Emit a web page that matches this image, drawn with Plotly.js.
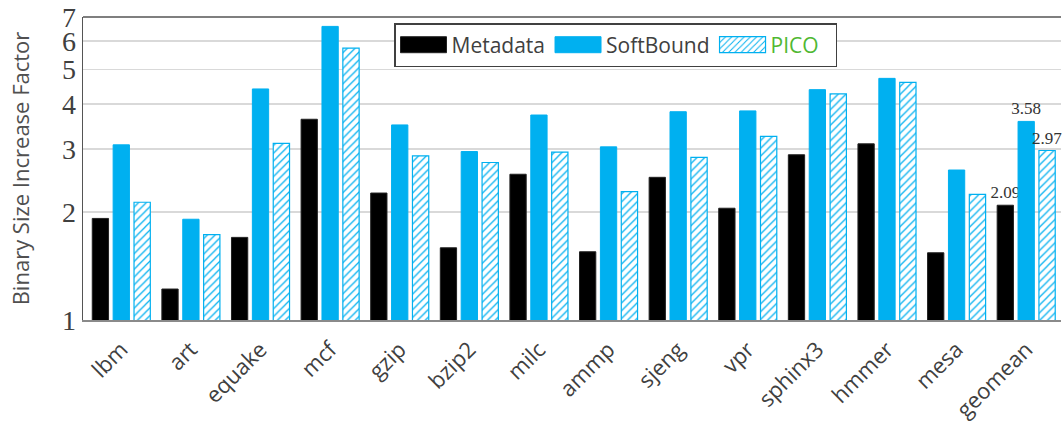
<!DOCTYPE html>
<html>
<head>
<meta charset="utf-8">
<script src="https://cdn.plot.ly/plotly-3.0.1.min.js"></script>
<style>
  html, body { margin: 0; padding: 0; background: #fff; }
  #chart { width: 1063px; height: 429px; }
</style>
</head>
<body>
<div id="chart"></div>
<script>
// Benchmarks on the x axis
const categories = ['lbm', 'art', 'equake', 'mcf', 'gzip', 'bzip2', 'milc',
                    'ammp', 'sjeng', 'vpr', 'sphinx3', 'hmmer', 'mesa', 'geomean'];

// Binary size increase factor per benchmark
const metadata  = [1.92, 1.22, 1.70, 3.63, 2.26, 1.59, 2.55, 1.55, 2.50, 2.05, 2.89, 3.10, 1.54, 2.09];
const softbound = [3.08, 1.91, 4.41, 6.59, 3.50, 2.95, 3.73, 3.04, 3.81, 3.83, 4.39, 4.72, 2.62, 3.58];
const pico      = [2.13, 1.73, 3.11, 5.73, 2.87, 2.75, 2.94, 2.28, 2.84, 3.25, 4.27, 4.60, 2.24, 2.97];

const seriesNames = ['Metadata', 'SoftBound', 'PICO'];
const yTickVals = [1, 2, 3, 4, 5, 6, 7];
const labelledCategory = 'geomean';

const BLUE = '#00b0f0';
const GREEN = '#50b832';
const TEXT = '#404040';

// value labels only on the summary group
function labelsFor(values) {
  return values.map((v, i) => categories[i] === labelledCategory ? v.toFixed(2) : '');
}

const valueFont = { family: 'Liberation Serif, Times New Roman, serif', size: 17, color: '#333333' };

const common = {
  type: 'bar',
  x: categories,
  textposition: 'outside',
  constraintext: 'none',
  cliponaxis: false,
  textfont: valueFont,
  hoverinfo: 'x+y'
};

const traces = [
  Object.assign({}, common, {
    name: seriesNames[0],
    y: metadata,
    text: labelsFor(metadata),
    marker: { color: '#000000', line: { color: '#222222', width: 1 } }
  }),
  Object.assign({}, common, {
    name: seriesNames[1],
    y: softbound,
    text: labelsFor(softbound),
    marker: { color: BLUE, line: { color: BLUE, width: 1 } }
  }),
  Object.assign({}, common, {
    // last legend entry gets a little trailing room before the box edge
    name: '<span style="color:' + GREEN + '">' + seriesNames[2] + '</span>&nbsp;&nbsp;',
    y: pico,
    text: labelsFor(pico),
    marker: {
      color: '#ffffff',
      line: { color: BLUE, width: 1.2 },
      pattern: { shape: '/', fgcolor: BLUE, bgcolor: '#ffffff', size: 5.5, solidity: 0.22 }
    }
  })
];

const layout = {
  width: 1063,
  height: 429,
  margin: { l: 83, r: 2, t: 17, b: 109, pad: 0 },
  paper_bgcolor: '#ffffff',
  plot_bgcolor: '#ffffff',
  barmode: 'group',
  bargap: 0.10,
  bargroupgap: 0.22,
  showlegend: true,
  legend: {
    orientation: 'h',
    x: 0.318, xanchor: 'left',
    y: 0.98, yanchor: 'top',
    bgcolor: '#ffffff',
    bordercolor: '#404040',
    borderwidth: 1.5,
    itemwidth: 46,
    traceorder: 'normal',
    font: { family: 'Open Sans, sans-serif', size: 21, color: TEXT }
  },
  xaxis: {
    type: 'category',
    range: [-0.55, 13.5],
    tickangle: -45,
    tickfont: { family: 'Open Sans, sans-serif', size: 22, color: TEXT },
    ticklabelstandoff: 6,
    showline: true,
    linecolor: '#8a8a8a',
    linewidth: 2,
    ticks: '',
    showgrid: false,
    zeroline: false,
    fixedrange: true
  },
  yaxis: {
    type: 'log',
    range: [0, Math.log10(7)],
    tickvals: yTickVals,
    ticktext: yTickVals.map(String),
    tickfont: { family: 'Liberation Serif, Times New Roman, serif', size: 28, color: TEXT },
    ticklabelstandoff: 0,
    showline: true,
    linecolor: '#555555',
    linewidth: 1.5,
    ticks: '',
    showgrid: true,
    gridcolor: '#d9d9d9',
    gridwidth: 1.5,
    zeroline: false,
    fixedrange: true,
    title: {
      text: 'Binary Size Increase Factor',
      font: { family: 'Open Sans, sans-serif', size: 22, color: '#505050' },
      standoff: 26
    }
  },
  shapes: [
    // top frame edge
    { type: 'line', xref: 'paper', yref: 'paper', x0: 0, x1: 1, y0: 1, y1: 1,
      line: { color: '#555555', width: 1.5 } }
  ]
};

Plotly.newPlot('chart', traces, layout, { displayModeBar: false, staticPlot: true }).then(function (gd) {
  // widen the legend swatches into flat rectangles
  document.querySelectorAll('#chart .legend .legendpoints path').forEach(function (p) {
    p.setAttribute('d', 'M-23,8H23V-8H-23Z');
  });
});
</script>
</body>
</html>
